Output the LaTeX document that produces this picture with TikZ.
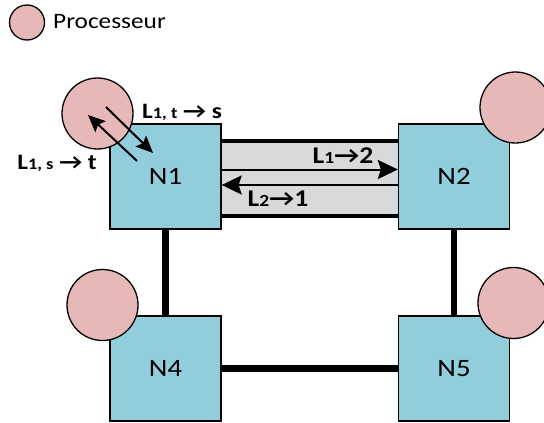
\documentclass[tikz,border=0pt]{standalone}
\usepackage{fontspec}
\setmainfont{Carlito}[FakeStretch=1.15]
\usetikzlibrary{arrows.meta,calc}
\definecolor{boxblue}{HTML}{92CDDC}
\definecolor{procpink}{HTML}{E6B9B8}
\definecolor{railgray}{HTML}{D9D9D9}
\begin{document}
\begin{tikzpicture}[x=1pt,y=-1pt,
 box/.style={draw=black, line width=1.3pt, fill=boxblue, minimum width=111pt, minimum height=105pt, inner sep=0, font=\fontsize{25}{25}\selectfont},
 proc/.style={circle, draw=black, line width=1.3pt, fill=procpink, minimum size=71pt, inner sep=0},
 link/.style={line width=6.5pt},
 rail/.style={line width=4pt},
 arr/.style={line width=2pt, -{Stealth[length=20pt,width=19pt,inset=3pt]}},
 darr/.style={line width=2pt, -{Stealth[length=17pt,width=15pt,inset=3pt]}},
 lbl/.style={font=\fontsize{22}{22}\selectfont\bfseries, inner sep=0},
 biglbl/.style={font=\fontsize{24}{24}\selectfont\bfseries, inner sep=0},
]
\useasboundingbox (0,0) rectangle (544,423);
% legend
\node[proc, minimum size=35pt] (leg) at (27,22.5) {};
\node[anchor=west, inner sep=0, font=\fontsize{22}{22}\selectfont] (legtxt) at (53,22) {Processeur};
% boxes
\node[box] (n1) at (165.5,176.5) {N1};
\node[box] (n2) at (454,176.5) {N2};
\node[box] (n4) at (165.5,368.5) {N4};
\node[box] (n5) at (454,368.5) {N5};
% corridor
\fill[railgray] (n1.east |- 0,141) rectangle (n2.west |- 0,216);
\draw[rail] (n1.east |- 0,141) -- (n2.west |- 0,141);
\draw[rail] (n1.east |- 0,216) -- (n2.west |- 0,216);
% links
\draw[link] (n1.south) -- (n4.north);
\draw[link] (n2.south) -- (n5.north);
\draw[link] (n4.east) -- (n5.west);
% processors
\node[proc] (p1) at (97.5,113.5) {};
\node[proc] (p2) at (515.5,107.5) {};
\node[proc] (p4) at (102.5,305) {};
\node[proc] (p5) at (513.5,303) {};
% corridor arrows
\draw[arr] (n1.east |- 0,169.5) -- (n2.west |- 0,169.5);
\draw[arr] (n2.west |- 0,185) -- (n1.east |- 0,185);
% processor arrows
\coordinate (a1s) at (137,161);
\coordinate (a1e) at (88,115);
\coordinate (a2s) at (106,107);
\coordinate (a2e) at (153,153);
\draw[darr] (a1s) -- (a1e);
\draw[darr] (a2s) -- (a2e);
% labels
\node[lbl] (lts) at (182,112) {L{\fontsize{16}{16}\selectfont 1, t} → s};
\node[lbl] (lst) at (57,163) {L{\fontsize{16}{16}\selectfont 1, s} → t};
\node[biglbl] (l12) at (343,156) {L{\fontsize{17}{17}\selectfont 1}→2};
\node[biglbl] (l21) at (278,199) {L{\fontsize{17}{17}\selectfont 2}→1};
\end{tikzpicture}
\end{document}
